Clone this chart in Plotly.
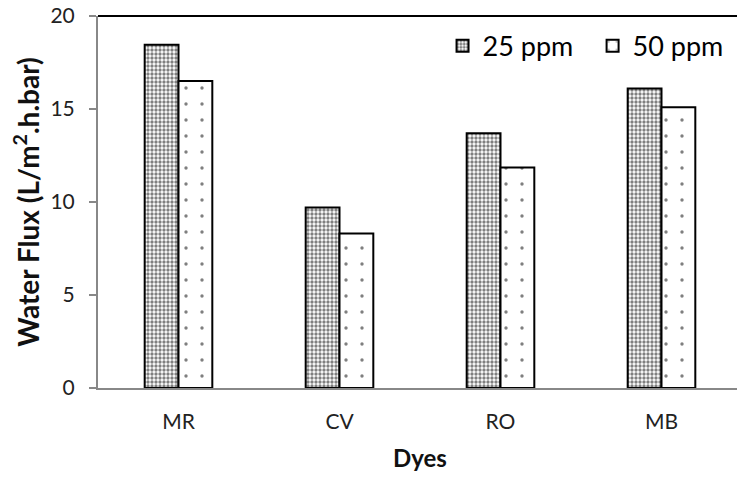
import plotly.graph_objects as go

categories = ["MR", "CV", "RO", "MB"]
series_names = ["25 ppm", "50 ppm"]
flux_25 = [18.45, 9.7, 13.7, 16.1]
flux_50 = [16.5, 8.3, 11.85, 15.1]
y_ticks = [0, 5, 10, 15, 20]

FONT = "Lato"

fig = go.Figure()
fig.add_trace(go.Bar(
    x=categories, y=flux_25, name=series_names[0], legend="legend",
    marker=dict(color="white", line=dict(color="black", width=2),
                pattern=dict(shape=".", size=4, solidity=0.55, fgcolor="black", bgcolor="white")),
))
fig.add_trace(go.Bar(
    x=categories, y=flux_50, name=series_names[1], legend="legend2",
    marker=dict(color="white", line=dict(color="black", width=2),
                pattern=dict(shape=".", size=16, solidity=0.035, fgcolor="black", bgcolor="white")),
))

legend_style = dict(orientation="h", yanchor="top", xanchor="left",
                    font=dict(family=FONT, size=27, color="black"),
                    bgcolor="rgba(0,0,0,0)", itemwidth=30)

fig.update_layout(
    width=745, height=477,
    margin=dict(l=90, r=11, t=8, b=97),
    paper_bgcolor="white", plot_bgcolor="white",
    barmode="group", bargap=0.58, bargroupgap=0,
    font=dict(family=FONT, size=20, color="#222"),
    showlegend=True,
    legend=dict(x=0.535, y=0.985, **legend_style),
    legend2=dict(x=0.768, y=0.985, **legend_style),
    xaxis=dict(
        automargin=False,
        showline=True, linecolor="#888", linewidth=2, mirror=False,
        ticks="", tickfont=dict(family=FONT, size=21), ticklabelstandoff=14,
        title=dict(text="<b>Dyes</b>", font=dict(family=FONT, size=24, color="#111"), standoff=18),
    ),
    yaxis=dict(
        automargin=False,
        range=[0, 20], tickvals=y_ticks, showgrid=False, zeroline=False,
        showline=True, linecolor="#888", linewidth=2,
        ticks="outside", ticklen=7, tickcolor="#888", tickwidth=2,
        tickfont=dict(family=FONT, size=21), ticklabeloverflow="allow", ticklabelstandoff=10,
        title=dict(text="<b>Water Flux (L/m<sup>2</sup>.h.bar)</b>", font=dict(family=FONT, size=28, color="#111"), standoff=8),
    ),
    shapes=[dict(type="line", xref="paper", yref="paper", x0=0, x1=1.03, y0=1, y1=1,
                 line=dict(color="black", width=2))],
)

fig.write_html("out.html")
